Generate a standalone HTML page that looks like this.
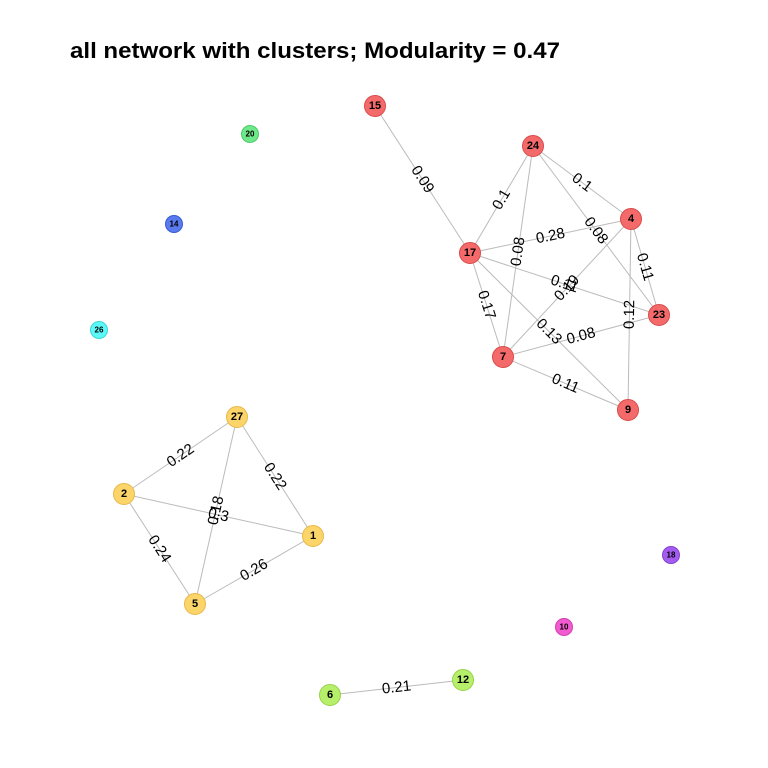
<!DOCTYPE html>
<html><head><meta charset="utf-8"><style>
body{margin:0;background:#fff;}
svg{display:block;font-family:"Liberation Sans",sans-serif;}
</style></head><body>
<svg id="chart" width="768" height="768">
<text x="70" y="58" font-size="22" font-weight="bold" fill="#000" textLength="490" lengthAdjust="spacingAndGlyphs">all network with clusters; Modularity = 0.47</text>
<g id="edges"></g>
<g id="elabels"></g>
<g id="nodes"></g>
</svg>
<script>
const nodeIds = ["15","20","24","14","4","17","23","26","7","9","27","2","1","18","5","10","6","12"];
const nodeX = [375,250,533,174,631,470,659,99,503,628,237,124,313,671,195,564,330,463];
const nodeY = [106,134,146,224,219,253,315,330,357,410,417,494,536,555,604,627,695,680];
const nodeCluster = ["red","green","red","blue","red","red","red","cyan","red","red","yellow","yellow","yellow","purple","yellow","magenta","lime","lime"];
const edgeFrom = ["15","24","24","24","24","17","17","17","17","4","4","4","7","7","27","27","27","2","2","5","6"];
const edgeTo   = ["17","17","4","7","23","4","23","7","9","7","23","9","23","9","2","1","5","1","5","1","12"];
const edgeWeight = ["0.09","0.1","0.1","0.08","0.08","0.28","0.11","0.17","0.13","0.19","0.11","0.12","0.08","0.11","0.22","0.22","0.18","0.3","0.24","0.26","0.21"];
const palette = {red:["#f46a6a","#d94a4a"],yellow:["#fbd46a","#e8b84a"],green:["#6ee889","#4cc86a"],blue:["#5a7af0","#3a5ad0"],cyan:["#5cf7f7","#3ad8d8"],purple:["#a45cf0","#8440d0"],magenta:["#f25ad0","#d040b0"],lime:["#b6f06a","#98d04a"]};
const small = {"20":1,"14":1,"26":1,"18":1,"10":1};
const NS="http://www.w3.org/2000/svg";
const idx = id => nodeIds.indexOf(id);
const eg=document.getElementById('edges'), lg=document.getElementById('elabels'), ng=document.getElementById('nodes');
edgeFrom.forEach((f,i)=>{
  const a=idx(f), b=idx(edgeTo[i]);
  const x1=nodeX[a],y1=nodeY[a],x2=nodeX[b],y2=nodeY[b];
  const l=document.createElementNS(NS,'line');
  l.setAttribute('x1',x1);l.setAttribute('y1',y1);l.setAttribute('x2',x2);l.setAttribute('y2',y2);
  l.setAttribute('stroke','#bbbbbb');l.setAttribute('stroke-width','1');
  
  
  eg.appendChild(l);
  let ang=Math.atan2(y2-y1,x2-x1)*180/Math.PI;
  if(ang>90)ang-=180; if(ang<-90)ang+=180;
  const mx=(x1+x2)/2,my=(y1+y2)/2;
  const t=document.createElementNS(NS,'text');
  t.setAttribute('x',mx);t.setAttribute('y',my);
  t.setAttribute('text-anchor','middle');t.setAttribute('dominant-baseline','central');
  t.setAttribute('font-size','15');t.setAttribute('fill','#000');
  t.setAttribute('transform','rotate('+ang.toFixed(1)+' '+mx+' '+my+')');
  t.textContent=edgeWeight[i];
  
  
  lg.appendChild(t);
});
nodeIds.forEach((id,i)=>{
  const g=document.createElementNS(NS,'g');
  
  
  const c=document.createElementNS(NS,'circle');
  const col=palette[nodeCluster[i]];
  const r=small[id]?8.5:10.5;
  c.setAttribute('cx',nodeX[i]);c.setAttribute('cy',nodeY[i]);c.setAttribute('r',r);
  c.setAttribute('fill',col[0]);c.setAttribute('stroke',col[1]);c.setAttribute('stroke-width','1');
  
  
  g.appendChild(c);
  const t=document.createElementNS(NS,'text');
  t.setAttribute('x',nodeX[i]);t.setAttribute('y',nodeY[i]);
  t.setAttribute('text-anchor','middle');t.setAttribute('dominant-baseline','central');
  t.setAttribute('font-size',small[id]?'8':'11');t.setAttribute('font-weight','bold');
  t.textContent=id;
  
  
  g.appendChild(t);
  ng.appendChild(g);
});
</script>
</body></html>
